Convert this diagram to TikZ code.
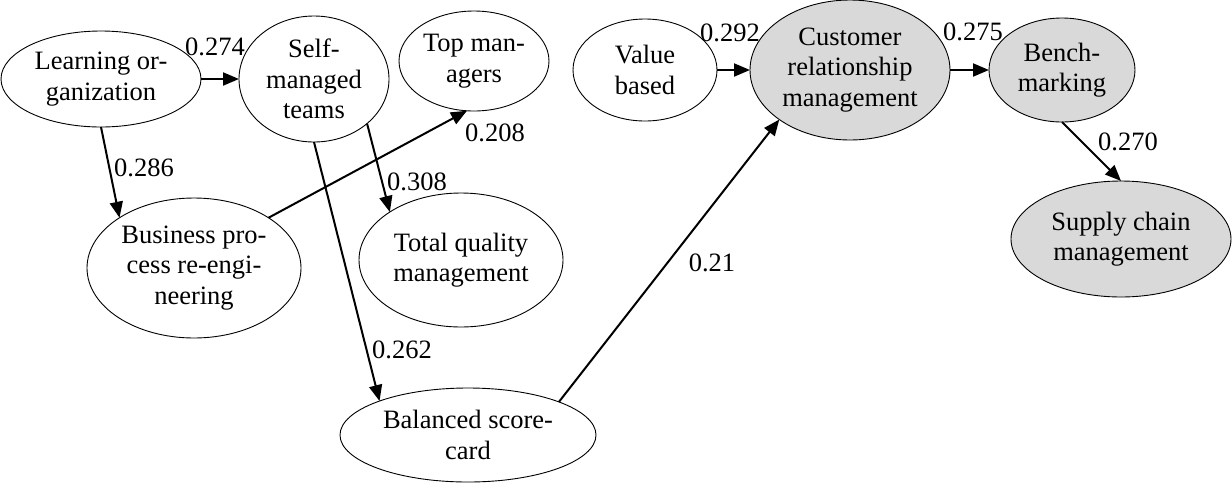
\documentclass[tikz,border=0pt]{standalone}
\usepackage{fontspec}
\setmainfont{Liberation Serif}
\usepackage{tikz}
\usetikzlibrary{shapes.geometric,arrows.meta}
\newcommand*\txtsize{\fontsize{26.5}{30.5}\selectfont}
\newcommand*\ellline{0.9pt}
\tikzset{
    factor/.style    = {draw,ellipse,fill=white,line width=\ellline,
                       inner sep=0pt, outer sep=0pt, align=center,
                       font=\txtsize},
    keyfactor/.style = {factor,fill=gray!30},
    link/.style      = {line width=2pt,-{Triangle[length=16pt,width=13pt]}},
    weight/.style    = {inner sep=0pt,font=\txtsize},
  }
\begin{document}
\begin{tikzpicture}[x=1pt,y=-1pt]
    \useasboundingbox (0,0) rectangle (1232,483);

    % left group of factors
    \node[factor,minimum width=200pt,minimum height=96pt]  (learn) at (101,79)  {Learning or-\\ganization};
    \node[factor,minimum width=150pt,minimum height=126pt] (teams) at (314,79)  {Self-\\managed\\teams};
    \node[factor,minimum width=150pt,minimum height=100pt] (top)   at (474,61)  {Top man-\\agers};
    \node[factor,minimum width=214pt,minimum height=140pt] (bpr)   at (194,268) {Business pro-\\cess re-engi-\\neering};
    \node[factor,minimum width=204pt,minimum height=134pt] (tqm)   at (461,260) {Total quality\\management};
    \node[factor,minimum width=256pt,minimum height=94pt]  (bsc)   at (468,435) {Balanced score-\\card};

    % right group, shaded ones
    \node[factor,minimum width=144pt,minimum height=102pt]    (value) at (645,70)   {Value\\based};
    \node[keyfactor,minimum width=200pt,minimum height=140pt] (crm)   at (850,70)   {Customer\\relationship\\management};
    \node[keyfactor,minimum width=146pt,minimum height=104pt] (bench) at (1062,70)  {Bench-\\marking};
    \node[keyfactor,minimum width=220pt,minimum height=116pt] (scm)   at (1121,239) {Supply chain\\management};

    % paths with their weights
    \draw[link] (learn) -- (teams);
    \draw[link] (learn.south) -- (bpr.146);
    \draw[link] (teams.320) -- (tqm.146);
    \draw[link] (teams.south) -- (bsc.159);
    \draw[link] (bpr.34) -- (top.262);
    \draw[link] (bsc.20) -- (crm.215);
    \draw[link] (value) -- (crm);
    \draw[link] (crm) -- (bench);
    \draw[link] (bench.south) -- (scm.north);

    \node[weight] (w274) at (215,47)   {0.274};
    \node[weight] (w286) at (144,168)  {0.286};
    \node[weight] (w308) at (417,182)  {0.308};
    \node[weight] (w208) at (495,133)  {0.208};
    \node[weight] (w262) at (402,350)  {0.262};
    \node[weight] (w21)  at (712,263)  {0.21};
    \node[weight] (w292) at (730,33)   {0.292};
    \node[weight] (w275) at (973,32)   {0.275};
    \node[weight] (w270) at (1128,142) {0.270};
\end{tikzpicture}
\end{document}
